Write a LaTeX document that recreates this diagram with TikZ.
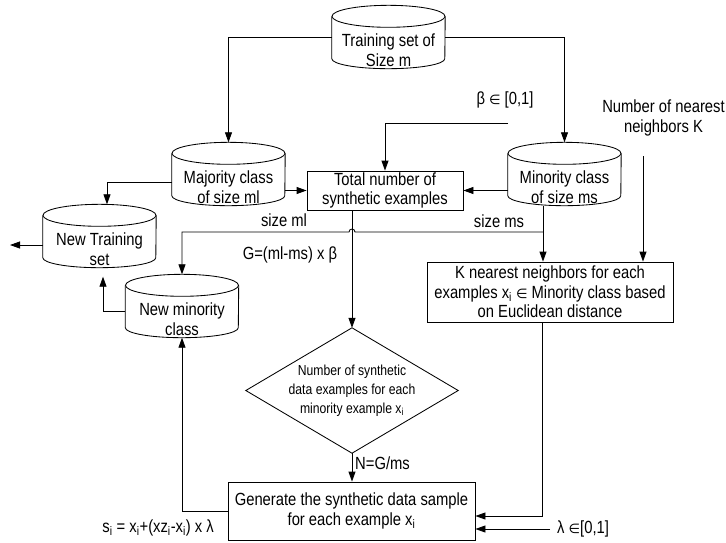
\documentclass[tikz,border=0pt]{standalone}
\usepackage{fontspec}
\setmainfont{Liberation Sans}[FakeStretch=0.84]
\newfontfamily\symf{DejaVu Sans}[Scale=0.75]
\usetikzlibrary{arrows.meta}
\newcommand\elem{{\symf ∈}}
\newcommand\cylinderpath[1]{%
  \draw[line] ([yshift=-11pt]#1.north) ellipse [x radius=56.5pt, y radius=11pt];
  \draw[line] ([yshift=-11pt]#1.north west) -- ([yshift=10pt]#1.south west)
     arc[start angle=180, end angle=360, x radius=56.5pt, y radius=10pt]
     -- ([yshift=-11pt]#1.north east);}
\begin{document}
\begin{tikzpicture}[x=1pt,y=1pt,
  every node/.style={font=\fontsize{17.6}{19.5}\selectfont, inner sep=0pt, align=center},
  line/.style={line width=0.85pt},
  arr/.style={line, -{Triangle[length=10pt,width=7pt]}},
  boxnode/.style={draw, line width=0.85pt},
  cyl/.style={minimum width=113pt, minimum height=63pt},
  cyltext/.style={yshift=-13pt, align=center}]
\useasboundingbox (0,0) rectangle (726,-542);

% cylinders
\node[cyl, label={[cyltext]center:{Training set of\\Size m}}] (train) at (388.5,-37) {};
\node[cyl, label={[cyltext]center:{Majority class\\of size ml}}] (maj) at (228.5,-174) {};
\node[cyl, label={[cyltext]center:{Minority class\\of size ms}}] (min) at (564.5,-174) {};
\node[cyl, label={[cyltext]center:{New Training\\set}}] (newtr) at (99.5,-236) {};
\node[cyl, label={[cyltext]center:{New minority\\class}}] (newmin) at (182,-306) {};
\cylinderpath{train}
\cylinderpath{maj}
\cylinderpath{min}
\cylinderpath{newtr}
\cylinderpath{newmin}

% boxes
\node[boxnode, minimum width=156pt, minimum height=39pt] (total) at (385,-190.5) {Total number of\\synthetic examples};
\node[boxnode, minimum width=246pt, minimum height=60pt] (knn) at (550,-292) {K nearest neighbors for each\\examples x\textsubscript{i} \elem{} Minority class based\\on Euclidean distance};
\node[boxnode, minimum width=247pt, minimum height=58pt] (gen) at (351.5,-511) {Generate the synthetic data sample\\for each example x\textsubscript{i}};
\node[minimum width=212pt, minimum height=125pt, font=\fontsize{14.5}{19}\selectfont] (dia) at (352,-390.5) {Number of synthetic\\data examples for each\\minority example x\textsubscript{i}};
\draw[line] (dia.north) -- (dia.east) -- (dia.south) -- (dia.west) -- cycle;

% labels
\node (beta) at (505,-100) {β \elem{} [0,1]};
\node (kl) at (663.5,-118) {Number of nearest\\neighbors K};
\node (sml) at (284,-220) {size ml};
\node (sms) at (499,-221) {size ms};
\node (gl) at (290,-255) {G=(ml-ms) x β};
\node[anchor=west] (nl) at (355,-463) {N=G/ms};
\node[anchor=west] (laml) at (557,-529) {λ \elem[0,1]};
\node[anchor=east] (sl) at (214,-528) {s\textsubscript{i} = x\textsubscript{i}+(xz\textsubscript{i}-x\textsubscript{i}) x λ};

% free ends
\coordinate (bstart) at (508,-123);
\coordinate (kstart) at (643,-156);
\coordinate (ms) at (543,-232);
\coordinate (hopc) at (352,-232);
\coordinate (lstart) at (550,-529);
\coordinate (out) at (10,-245);

% connectors
\draw[arr] (train.west) -| (maj.north);
\draw[arr] (train.east) -| (min.north);
\draw[arr] (maj.east |- total.west) -- (total.west);
\draw[arr] (min.west |- total.east) -- (total.east);
\draw[arr] (bstart) -| (total.north);
\draw[arr] ([yshift=-8pt]maj.west) -| ([xshift=7.5pt]newtr.north);
\draw[arr] ([yshift=-9pt]newtr.west) -- (out);
\draw[arr] (min.south -| ms) -- (knn.north -| ms);
\draw[arr] (ms) -- ([xshift=3pt]hopc) arc[start angle=0, end angle=180, radius=3pt] -- (newmin.north |- ms) -- (newmin.north);
\draw[arr] (total.south -| dia.north) -- (dia.north);
\draw[arr] (kstart) -- (kstart |- knn.north);
\draw[arr] ([xshift=-8pt]knn.south) |- ([yshift=-5pt]gen.east);
\draw[arr] (lstart) -- (gen.east |- lstart);
\draw[arr] (dia.south) -- (dia.south |- gen.north);
\draw[arr] (gen.west) -| (newmin.south);
\draw[arr] ([yshift=-5pt]newmin.west) -| ([xshift=3.5pt,yshift=-9pt]newtr.south);
\end{tikzpicture}
\end{document}
